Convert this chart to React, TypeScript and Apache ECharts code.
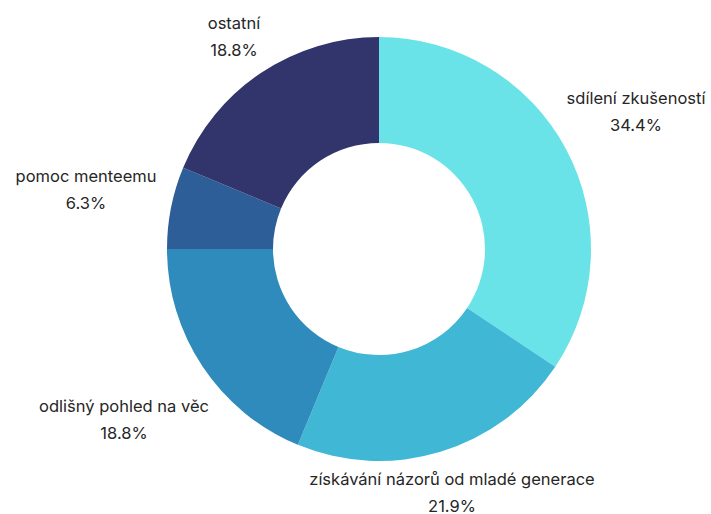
import React, { useEffect, useRef } from "react";
import * as echarts from "echarts";

const categories = [
  "sdílení zkušeností",
  "získávání názorů od mladé generace",
  "odlišný pohled na věc",
  "pomoc menteemu",
  "ostatní",
];
const values = [11, 7, 6, 2, 6];
const colors = ["#6AE3E8", "#41B7D6", "#2E8BBC", "#2E5E98", "#31356B"];
// label block centres (layout only)
const labelCenters: [number, number][] = [
  [636, 111],
  [452, 492],
  [124, 419],
  [86, 189],
  [234, 36],
];

export default function App() {
  const ref = useRef<HTMLDivElement>(null);
  useEffect(() => {
    if (!ref.current) return;
    const chart = echarts.init(ref.current, undefined, { renderer: "svg" });
    const total = values.reduce((a, b) => a + b, 0);
    chart.setOption({
      animation: false,
      backgroundColor: "#ffffff",
      series: [
        {
          type: "pie",
          center: [379, 249],
          radius: [106, 212],
          startAngle: 90,
          clockwise: true,
          avoidLabelOverlap: false,
          itemStyle: { borderWidth: 0 },
          label: {
            show: true,
            position: "outside",
            formatter: (p: any) =>
              `${p.name}\n${((p.value / total) * 100).toFixed(1)}%`,
            fontFamily: "Inter",
            fontSize: 16.5,
            lineHeight: 27,
            color: "#262626",
            align: "center",
          },
          labelLine: { show: false },
          labelLayout: (p: any) => {
            const c = labelCenters[p.dataIndex];
            return { x: c[0], y: c[1], align: "center", verticalAlign: "middle" };
          },
          emphasis: { disabled: true },
          data: categories.map((name, i) => ({
            name,
            value: values[i],
            itemStyle: { color: colors[i] },
          })),
        },
      ],
    });
    return () => chart.dispose();
  }, []);
  return (
    <div
      ref={ref}
      style={{ position: "fixed", left: 0, top: 0, width: 711, height: 514 }}
    />
  );
}
